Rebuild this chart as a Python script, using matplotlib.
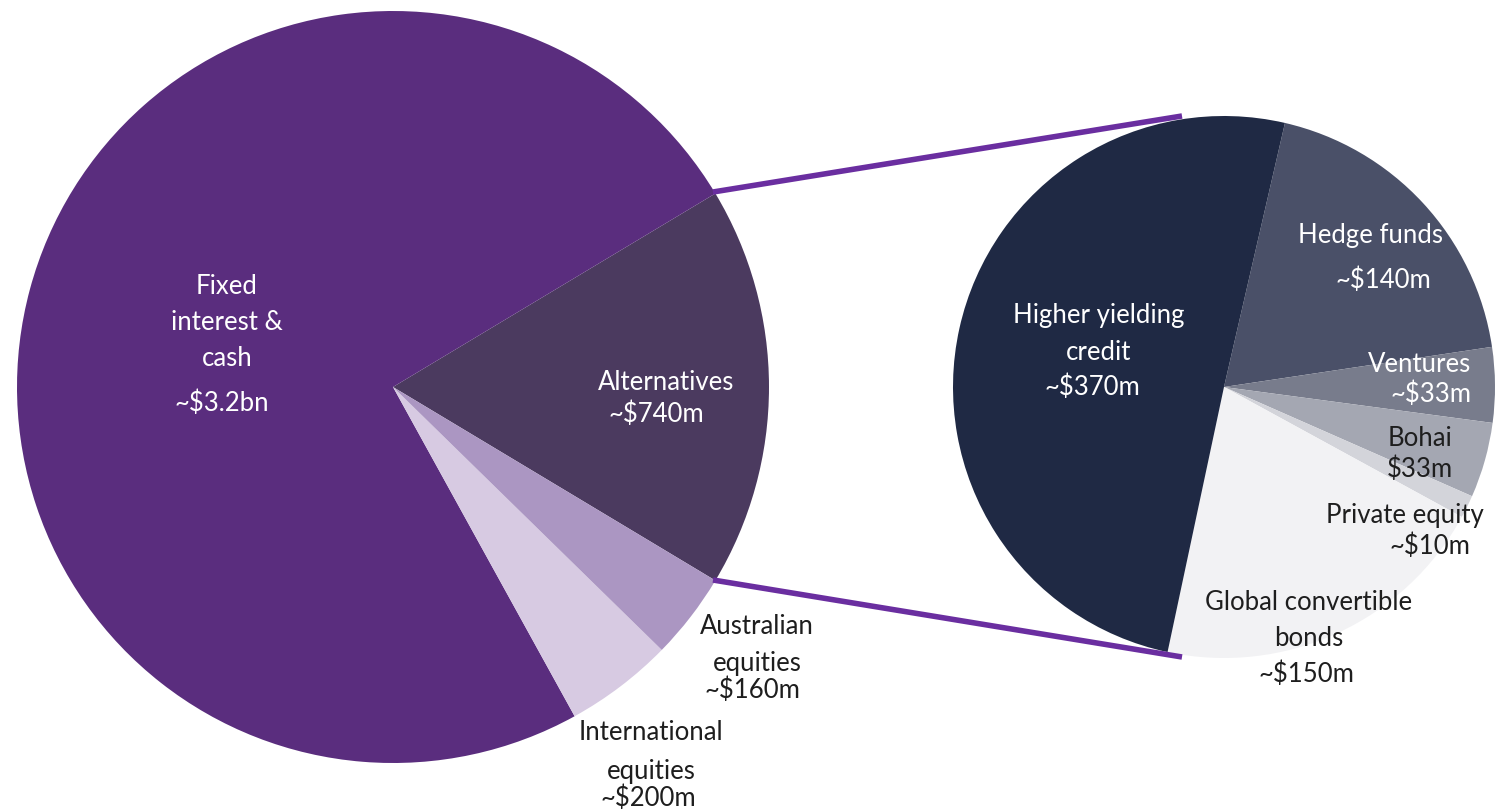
import matplotlib
matplotlib.use('Agg')
import matplotlib.pyplot as plt

# left pie: total portfolio
main_names = ['Alternatives', 'Fixed interest & cash', 'International equities', 'Australian equities']
main_values = [740, 3200, 200, 160]
main_amounts = ['~$740m', '~$3.2bn', '~$200m', '~$160m']
main_colors = ['#4b3a5f', '#5a2d7e', '#d7cae2', '#ab96c2']

# right pie: breakdown of alternatives
alt_names = ['Hedge funds', 'Ventures', 'Bohai', 'Private equity', 'Global convertible bonds', 'Higher yielding credit']
alt_values = [140, 33, 33, 10, 150, 370]
alt_amounts = ['~$140m', '~$33m', '$33m', '~$10m', '~$150m', '~$370m']
alt_colors = ['#4a5068', '#787c8c', '#a4a7b2', '#d3d4da', '#f2f2f4', '#1f2944']

W, H = 1511, 810
fig = plt.figure(figsize=(W / 100, H / 100), dpi=100)
ax = fig.add_axes([0, 0, 1, 1])

def py(y):
    return H - y

lc, lr = (393, py(387)), 376
rc, rr = (1224, py(387)), 271

alt_share = main_values[0] / sum(main_values)
ax.pie(main_values, colors=main_colors, center=lc, radius=lr, frame=True,
       startangle=-alt_share * 180, counterclock=True,
       wedgeprops=dict(linewidth=0))
ax.pie(alt_values, colors=alt_colors, center=rc, radius=rr, frame=True,
       startangle=77, counterclock=False,
       wedgeprops=dict(linewidth=0))
ax.set_xlim(0, W)
ax.set_ylim(0, H)
ax.set_aspect('equal')
ax.axis('off')

# connector lines
ax.plot([713, 1182], [py(192), py(116)], color='#6a2ea0', lw=4, solid_capstyle='butt', zorder=5)
ax.plot([713, 1182], [py(580), py(657)], color='#6a2ea0', lw=4, solid_capstyle='butt', zorder=5)

font = dict(family=['Lato', 'DejaVu Sans'], fontweight='normal', fontsize=18.5)

def label(lines, xs, ys, color, ha='center'):
    for t, x, y in zip(lines, xs, ys):
        ax.text(x, py(y), t, color=color, ha=ha, va='center', zorder=6, **font)

W_ = 'white'
D_ = '#1e1e1e'
label(['Fixed', 'interest &', 'cash', main_amounts[1]], [227, 227, 227, 222], [286, 323, 358, 403], W_)
label([main_names[0], main_amounts[0]], [666, 656], [382, 414], W_)
label(['Australian', 'equities', main_amounts[3]], [757, 757, 752], [626, 663, 690], D_)
label(['International', 'equities', main_amounts[2]], [651, 651, 648], [733, 771, 798], D_)

label(['Higher yielding', 'credit', alt_amounts[5]], [1099, 1099, 1092], [315, 352, 387], W_)
label([alt_names[0], alt_amounts[0]], [1371, 1383], [236, 280], W_)
label([alt_names[1], alt_amounts[1]], [1471, 1471], [364, 394], W_, ha='right')
label([alt_names[2], alt_amounts[2]], [1420, 1420], [438, 469], D_)
label([alt_names[3], alt_amounts[3]], [1405, 1430], [516, 546], D_)
label(['Global convertible', 'bonds', alt_amounts[4]], [1309, 1309, 1306], [603, 639, 674], D_)

fig.savefig('out.png', dpi=100)
